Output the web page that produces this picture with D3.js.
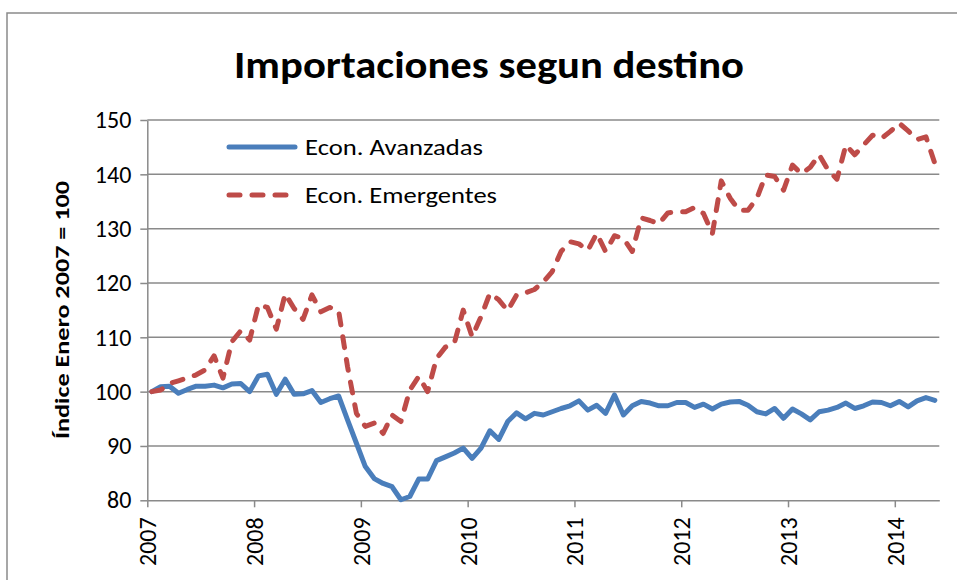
<!DOCTYPE html>
<html>
<head>
<meta charset="utf-8">
<script src="https://cdn.jsdelivr.net/npm/d3@7"></script>
<style>
  body { margin: 0; background: #fff; }
  svg { display: block; font-family: Calibri, Carlito, 'Open Sans', sans-serif; }
  .grid line, .axis line, .axis path { stroke: #8a8a8a; stroke-width: 1.5; }
  .tick-label { font-size: 24px; fill: #000; }
</style>
</head>
<body>
<svg id="chart" width="957" height="580"></svg>
<script>
// year labels on the x axis (one tick every 12 months, starting Jan 2007)
const years = ['2007', '2008', '2009', '2010', '2011', '2012', '2013', '2014'];
const yTicks = [80, 90, 100, 110, 120, 130, 140, 150];

// monthly index, Jan 2007 = 100 (Jan 2007 .. May 2014)
const avanzadas = [
	100.0, 100.9, 101.0, 99.7, 100.4, 101.0, 101.0, 101.2, 100.7, 101.4, 101.5, 100.0,
	102.9, 103.2, 99.5, 102.3, 99.5, 99.6, 100.2, 98.0, 98.7, 99.2, 94.8, 90.5,
	86.2, 84.0, 83.1, 82.5, 80.1, 80.7, 83.9, 83.9, 87.3, 88.0, 88.7, 89.6,
	87.7, 89.6, 92.8, 91.2, 94.5, 96.1, 95.0, 96.0, 95.7, 96.3, 96.9, 97.4,
	98.3, 96.6, 97.5, 96.0, 99.4, 95.7, 97.4, 98.2, 97.9, 97.4, 97.4, 98.0,
	98.0, 97.1, 97.7, 96.8, 97.7, 98.1, 98.2, 97.5, 96.3, 95.9, 96.9, 95.1,
	96.8, 95.9, 94.8, 96.3, 96.6, 97.1, 97.9, 96.9, 97.4, 98.1, 98.0, 97.4,
	98.2, 97.2, 98.3, 98.9, 98.4
];
const emergentes = [
	100.0, 100.3, 101.5, 102.0, 102.5, 103.1, 104.0, 106.6, 102.5, 109.2, 111.2, 109.5,
	116.0, 115.5, 111.5, 118.0, 115.3, 113.3, 117.8, 114.7, 115.5, 114.9, 104.6, 96.0,
	93.6, 94.2, 92.3, 95.7, 94.5, 100.3, 102.8, 100.0, 106.1, 108.2, 108.9, 115.0,
	110.1, 113.8, 118.1, 116.9, 114.9, 117.8, 118.2, 118.8, 120.2, 122.1, 125.8, 127.6,
	127.2, 126.0, 129.1, 125.8, 128.7, 128.2, 125.8, 132.0, 131.5, 130.9, 132.9, 133.1,
	133.1, 133.9, 132.8, 129.1, 138.8, 135.6, 133.4, 133.4, 135.6, 139.9, 139.6, 137.1,
	141.7, 140.1, 141.3, 143.6, 140.8, 139.1, 145.4, 143.6, 145.4, 147.2, 146.6, 147.9,
	149.4, 148.0, 146.4, 146.9, 142.0
];

const seriesNames = ['Econ. Avanzadas', 'Econ. Emergentes'];
const colors = ['#4a7ebb', '#be4b48'];

const svg = d3.select('#chart');
const plot = { left: 147.3, right: 939.3, top: 120, bottom: 500.3 };

// chart frame (cut off at right and bottom like the original)
svg.append('rect')
	.attr('x', 7).attr('y', 13)
	.attr('width', 970).attr('height', 600)
	.attr('fill', 'none')
	.attr('stroke', '#8a8a8a')
	.attr('stroke-width', 1.5);

// months are shown "between tick marks": each month sits in the middle of its slot
const nMonths = avanzadas.length;
const xScale = d3.scaleLinear()
	.domain([0, nMonths])
	.range([plot.left, plot.right]);

const yScale = d3.scaleLinear()
	.domain([80, 150])
	.range([plot.bottom, plot.top]);

// gridlines
svg.append('g')
	.attr('class', 'grid')
	.selectAll('line').data(yTicks.filter(d => d > 80))
	.enter().append('line')
		.attr('x1', plot.left).attr('x2', plot.right)
		.attr('y1', d => yScale(d)).attr('y2', d => yScale(d));

// y axis
const yAxis = d3.axisLeft(yScale)
	.tickValues(yTicks)
	.tickSize(7)
	.tickPadding(9)
	.tickSizeOuter(0);
const yAxisG = svg.append('g')
	.attr('class', 'axis')
	.attr('transform', `translate(${plot.left},0)`)
	.call(yAxis)
	.attr('font-family', null)
	.attr('font-size', null);
yAxisG.selectAll('text').attr('class', 'tick-label');

// x axis
const xAxis = d3.axisBottom(xScale)
	.tickValues(years.map((d, i) => i * 12))
	.tickFormat((d, i) => years[i])
	.tickSize(7)
	.tickSizeOuter(0);
const xAxisG = svg.append('g')
	.attr('class', 'axis')
	.attr('transform', `translate(0,${plot.bottom})`)
	.call(xAxis)
	.attr('font-family', null)
	.attr('font-size', null);
xAxisG.selectAll('text')
	.attr('class', 'tick-label')
	.attr('text-anchor', 'end')
	.attr('dy', '0.35em')
	.attr('transform', 'translate(0,17) rotate(-90)')
	.attr('y', 0).attr('x', 0);

// lines
const line = data => d3.line()
	.x((d, i) => xScale(i + 0.5))
	.y(d => yScale(d))(data);

svg.append('path')
	.attr('d', line(avanzadas))
	.attr('fill', 'none')
	.attr('stroke', colors[0])
	.attr('stroke-width', 5)
	.attr('stroke-linejoin', 'round')
	.attr('stroke-linecap', 'round');

svg.append('path')
	.attr('d', line(emergentes))
	.attr('fill', 'none')
	.attr('stroke', colors[1])
	.attr('stroke-width', 5)
	.attr('stroke-linejoin', 'round')
	.attr('stroke-linecap', 'round')
	.attr('stroke-dasharray', '11,12');

// legend
const legend = svg.append('g').attr('transform', 'translate(229,147)');
seriesNames.forEach((name, i) => {
	const row = legend.append('g').attr('transform', `translate(0,${i * 48})`);
	row.append('line')
		.attr('x1', 0).attr('x2', 66)
		.attr('stroke', colors[i])
		.attr('stroke-width', 5)
		.attr('stroke-linecap', 'round')
		.attr('stroke-dasharray', i === 1 ? '11,12' : null);
	row.append('text')
		.attr('x', 76).attr('y', 8)
		.attr('font-size', 23)
		.attr('textLength', i === 0 ? 178 : 192)
		.attr('lengthAdjust', 'spacingAndGlyphs')
		.text(name);
});

// title
svg.append('text')
	.attr('x', 489).attr('y', 78)
	.attr('text-anchor', 'middle')
	.attr('font-size', 38)
	.attr('font-weight', 'bold')
	.attr('textLength', 510)
	.attr('lengthAdjust', 'spacingAndGlyphs')
	.text('Importaciones segun destino');

// y axis label
svg.append('text')
	.attr('transform', 'translate(69,310) rotate(-90)')
	.attr('text-anchor', 'middle')
	.attr('font-size', 20)
	.attr('font-weight', 'bold')
	.attr('textLength', 258)
	.attr('lengthAdjust', 'spacingAndGlyphs')
	.text('Índice Enero 2007 = 100');
</script>
</body>
</html>
